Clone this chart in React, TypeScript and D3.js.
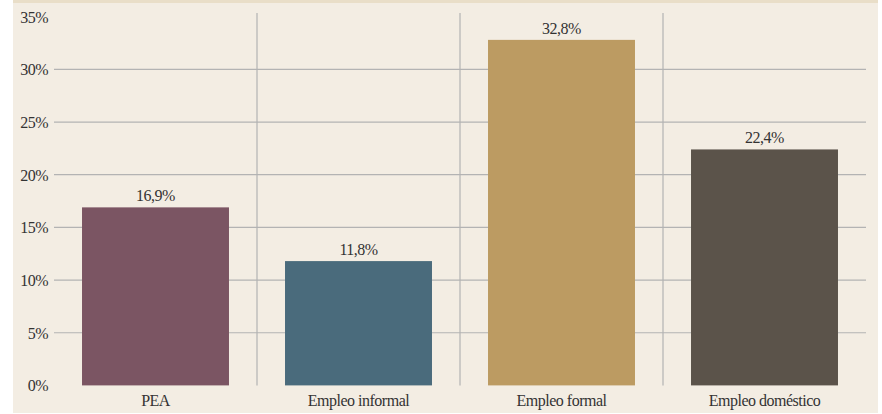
import React from 'react';
import * as d3 from 'd3';

const categories = ['PEA', 'Empleo informal', 'Empleo formal', 'Empleo doméstico'];
const values = [16.9, 11.8, 32.8, 22.4];
const colors = ['#7b5563', '#4a6b7c', '#bc9b62', '#5b534a'];
const yTicks = [0, 5, 10, 15, 20, 25, 30, 35];

const App = () => {
    const width = 882,
        height = 414;
    const left = 54,
        right = 866,
        bottom = 385.4,
        top = 16.7;

    const x = d3.scaleBand<string>()
        .domain(categories)
        .range([left, right])
        .paddingInner(0.276)
        .paddingOuter(0.138);

    const y = d3.scaleLinear()
        .domain([0, 35])
        .range([bottom, top]);

    const step = x.step();
    const fmt = (v: number) => v.toFixed(1).replace('.', ',') + '%';
    const textStyle = {
        fontFamily: 'Liberation Serif, DejaVu Serif, serif',
        fontSize: '16px',
        letterSpacing: '-0.5px'
    };

    return <svg width={width} height={height}
        style={{ position: 'absolute', left: 0, top: 0, display: 'block' }}>
        <rect x={13} y={0} width={865} height={413} fill="#f3ede3" />
        <rect x={13} y={0} width={865} height={3} fill="#e9dec8" />
        <g stroke="#b3b3b3" strokeWidth={1.2}>
            {yTicks.filter(t => t > 0 && t < 35).map(t =>
                <line key={t} x1={left} x2={right} y1={y(t)} y2={y(t)} />
            )}
            {categories.slice(1).map(c =>
                <line key={c} x1={x(c)! - (step - x.bandwidth()) / 2}
                    x2={x(c)! - (step - x.bandwidth()) / 2} y1={13} y2={bottom} />
            )}
        </g>
        {categories.map((c, i) =>
            <rect key={c} x={x(c)} y={y(values[i])} width={x.bandwidth()}
                height={bottom - y(values[i])} fill={colors[i]} />
        )}
        <g style={textStyle} fill="#333">
            {yTicks.map(t =>
                <text key={t} x={48} y={y(t) + 6} textAnchor="end">{t}%</text>
            )}
            {categories.map(c =>
                <text key={c} x={x(c)! + x.bandwidth() / 2} y={406} textAnchor="middle">{c}</text>
            )}
            {categories.map((c, i) =>
                <text key={c} x={x(c)! + x.bandwidth() / 2} y={y(values[i]) - 6}
                    textAnchor="middle">{fmt(values[i])}</text>
            )}
        </g>
    </svg>;
};

export default App;
